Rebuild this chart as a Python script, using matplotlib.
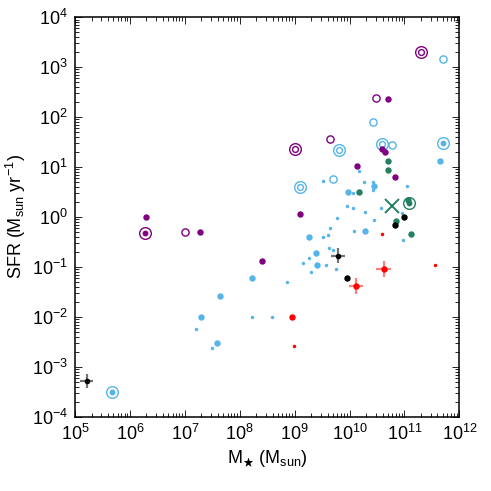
import numpy as np
import matplotlib
matplotlib.use("Agg")
import matplotlib.pyplot as plt
from matplotlib.ticker import LogLocator, NullFormatter

plt.rcParams['font.family'] = ['Liberation Sans', 'DejaVu Sans']
plt.rcParams['mathtext.fontset'] = 'custom'
plt.rcParams['mathtext.rm'] = 'Liberation Sans'
plt.rcParams['mathtext.it'] = 'Liberation Sans:italic'
plt.rcParams['mathtext.bf'] = 'Liberation Sans:bold'

# ---- data: log10(M*/Msun), log10(SFR) ----
blue_small_m = [10.17, 9.51, 10.26, 10.43, 10.43, 10.07, 11.04, 9.96, 10.07, 10.29, 10.58, 10.95,
                9.78, 10.45, 10.966, 9.65, 10.08, 9.61, 9.51, 9.635, 9.70, 9.265, 9.15, 9.57,
                9.76, 9.29, 8.87, 8.59, 8.22, 7.20, 7.50]
blue_small_s = [0.926, 0.72, 0.70, 0.70, 0.534, 0.486, 0.62, 0.214, 0.174, 0.106, 0.186, 0.086,
                -0.02, -0.066, -0.466, -0.226, -0.28, -0.354, -0.406, -0.614, -0.666, -0.814, -0.926, -0.954,
                -1.034, -1.106, -1.306, -2.0, -2.0, -2.246, -2.626]
blue_fill_m = [10.455, 9.98, 10.28, 9.26, 9.39, 9.41, 8.22, 7.65, 7.30, 7.58, 11.653]
blue_fill_s = [0.626, 0.506, -0.274, -0.406, -0.726, -0.966, -1.226, -1.574, -2.006, -2.526, 1.12]
blue_open_m = [11.70, 10.42, 10.78, 9.70]
blue_open_s = [3.166, 1.90, 1.44, 0.766]
blue_double_m = [9.80, 10.60, 9.10]
blue_double_s = [1.334, 1.466, 0.594]
blue_ringdot_m = [11.70, 5.675]
blue_ringdot_s = [1.474, -3.514]

purple_fill_m = [10.70, 10.59, 10.645, 10.135, 10.82, 9.107, 6.30, 7.28, 8.41]
purple_fill_s = [2.354, 1.354, 1.306, 1.02, 0.806, 0.066, -0.006, -0.294, -0.89]
purple_open_m = [10.48, 9.64, 7.005]
purple_open_s = [2.386, 1.56, -0.306]
purple_double_m = [11.307, 9.00]
purple_double_s = [3.314, 1.366]
purple_ringdot_m = [6.27]
purple_ringdot_s = [-0.32]

green_fill_m = [10.70, 10.71, 10.165, 11.06, 10.85, 11.12]
green_fill_s = [1.126, 0.934, 0.494, 0.34, -0.086, -0.34]
green_ringdot_m = [11.09]
green_ringdot_s = [0.286]
green_x_m = [10.78]
green_x_s = [0.214]

black_fill_m = [11.0, 10.83, 9.96]
black_fill_s = [-0.006, -0.16, -1.226]
black_err_m = [9.79, 5.21]
black_err_s = [-0.78, -3.294]
black_err_dm = [0.13, 0.12]
black_err_ds = [0.15, 0.14]

red_fill_m = [8.96]
red_fill_s = [-2.0]
red_small_m = [10.60, 11.56, 8.98]
red_small_s = [-0.334, -0.966, -2.586]
red_err_m = [10.62, 10.12]
red_err_s = [-1.034, -1.374]
red_err_dm = [0.13, 0.13]
red_err_ds = [0.16, 0.16]

BLUE = '#56B4E9'
PURPLE = '#800080'
GREEN = '#23805E'
RED = '#FF0000'
BLACK = '#000000'

def L(a):
    return 10 ** np.asarray(a, dtype=float)

fig = plt.figure(figsize=(4.91, 4.91), dpi=100)
ax = fig.add_axes([0.1527, 0.1513, 0.9355 - 0.1527, 0.9648 - 0.1513])
ax.set_xscale('log')
ax.set_yscale('log')

def dots(m, s, c, ms):
    ax.plot(L(m), L(s), 'o', ms=ms, color=c, mec='none', zorder=3)

def rings(m, s, c, ms, mew=1.0):
    ax.plot(L(m), L(s), 'o', ms=ms, mfc='none', mec=c, mew=mew, zorder=3)

# blue
dots(blue_small_m, blue_small_s, BLUE, 2.5)
dots(blue_fill_m, blue_fill_s, BLUE, 4.6)
rings(blue_open_m, blue_open_s, BLUE, 5.2)
rings(blue_double_m, blue_double_s, BLUE, 8.4)
rings(blue_double_m, blue_double_s, BLUE, 4.2)
rings(blue_ringdot_m, blue_ringdot_s, BLUE, 8.4)
dots(blue_ringdot_m, blue_ringdot_s, BLUE, 4.2)

# purple
dots(purple_fill_m, purple_fill_s, PURPLE, 4.6)
rings(purple_open_m, purple_open_s, PURPLE, 5.2)
rings(purple_double_m, purple_double_s, PURPLE, 8.4)
rings(purple_double_m, purple_double_s, PURPLE, 4.2)
rings(purple_ringdot_m, purple_ringdot_s, PURPLE, 8.4)
dots(purple_ringdot_m, purple_ringdot_s, PURPLE, 4.2)

# green
dots(green_fill_m, green_fill_s, GREEN, 4.6)
rings(green_ringdot_m, green_ringdot_s, GREEN, 8.4)
dots(green_ringdot_m, green_ringdot_s, GREEN, 4.2)
ax.plot(L(green_x_m), L(green_x_s), 'x', ms=10, mew=1.4, color=GREEN, zorder=3)

# black
dots(black_fill_m, black_fill_s, BLACK, 4.6)
bm, bs = np.array(black_err_m), np.array(black_err_s)
ax.errorbar(L(bm), L(bs),
            xerr=[L(bm) - L(bm - black_err_dm), L(bm + black_err_dm) - L(bm)],
            yerr=[L(bs) - L(bs - black_err_ds), L(bs + black_err_ds) - L(bs)],
            fmt='o', ms=4.0, color=BLACK, mec='none', ecolor=(0, 0, 0, 0.55), elinewidth=1.6,
            capsize=0, zorder=3)

# red
dots(red_fill_m, red_fill_s, RED, 4.6)
dots(red_small_m, red_small_s, RED, 2.5)
rm_, rs_ = np.array(red_err_m), np.array(red_err_s)
ax.errorbar(L(rm_), L(rs_),
            xerr=[L(rm_) - L(rm_ - red_err_dm), L(rm_ + red_err_dm) - L(rm_)],
            yerr=[L(rs_) - L(rs_ - red_err_ds), L(rs_ + red_err_ds) - L(rs_)],
            fmt='o', ms=4.6, color=RED, mec='none', ecolor=(1, 0, 0, 0.5), elinewidth=1.6,
            capsize=0, zorder=3)

ax.set_xlim(1e5, 1e12)
ax.set_ylim(1e-4, 1e4)
ax.xaxis.set_major_locator(LogLocator(base=10, numticks=20))
ax.yaxis.set_major_locator(LogLocator(base=10, numticks=20))
ax.xaxis.set_minor_locator(LogLocator(base=10, subs=np.arange(2, 10), numticks=100))
ax.yaxis.set_minor_locator(LogLocator(base=10, subs=np.arange(2, 10), numticks=100))
ax.xaxis.set_minor_formatter(NullFormatter())
ax.yaxis.set_minor_formatter(NullFormatter())
ax.tick_params(which='both', direction='in', top=True, right=True, width=0.7, color='#222222')
ax.tick_params(which='major', length=5, labelsize=13, pad=5)
ax.tick_params(which='minor', length=3)
for sp in ax.spines.values():
    sp.set_linewidth(1.1)

ax.set_xlabel(r'M$_{\bigstar}$ (M$_{\rm sun}$)', fontsize=13, labelpad=3)
ax.set_ylabel(r'SFR (M$_{\rm sun}$ yr$^{-1}$)', fontsize=13, labelpad=3)

fig.savefig('out.png', dpi=100)
